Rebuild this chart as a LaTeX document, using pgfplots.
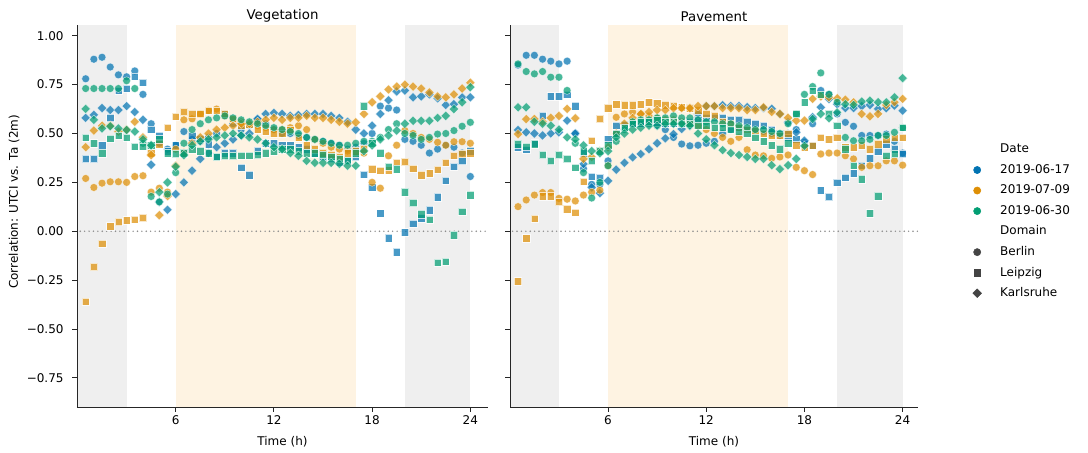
\documentclass[border=0pt]{standalone}
\usepackage{fontspec}
\setmainfont{DejaVu Sans}
\usepackage{pgfplots}
\usepackage{pgfplotstable}
\pgfplotsset{compat=1.18}

\definecolor{cb}{HTML}{0173B2}
\definecolor{co}{HTML}{DE8F05}
\definecolor{cg}{HTML}{029E73}
\definecolor{nightgray}{HTML}{EFEFEF}
\definecolor{dayorange}{HTML}{FEF3E2}
\definecolor{mkgray}{HTML}{444444}

% columns: blue = 2019-06-17, orange = 2019-07-09, green = 2019-06-30
% B = Berlin, L = Leipzig, K = Karlsruhe
\pgfplotstableread{
t bB bL bK oB oL oK gB gL gK
0.5 0.78 0.37 0.58 0.27 -0.36 0.43 0.73 0.48 0.626
1.0 0.88 0.37 0.595 0.224 -0.183 0.515 0.73 0.45 0.57
1.5 0.89 0.44 0.63 0.246 -0.062 0.54 0.73 0.40 0.526
2.0 0.84 0.58 0.62 0.253 0.025 0.54 0.73 0.475 0.537
2.5 0.80 0.72 0.62 0.253 0.048 0.51 0.73 0.49 0.526
3.0 0.79 0.73 0.64 0.25 0.056 0.52 0.77 0.48 0.518
3.5 0.82 0.79 0.61 0.28 0.06 0.56 0.73 0.434 0.51
4.0 0.70 0.76 0.57 0.284 0.068 0.48 0.45 0.434 0.47
4.5 0.55 0.52 0.34 0.20 0.40 0.39 0.178 0.44 0.44
5.0 0.45 0.49 0.15 0.22 0.446 0.082 0.15 0.47 0.20
5.5 0.42 0.41 0.11 0.20 0.53 0.18 0.19 0.40 0.25
6.0 0.44 0.44 0.19 0.42 0.586 0.335 0.30 0.395 0.33
6.5 0.51 0.40 0.25 0.57 0.61 0.40 0.45 0.40 0.39
7.0 0.47 0.49 0.31 0.575 0.60 0.45 0.52 0.42 0.44
7.5 0.46 0.475 0.37 0.60 0.60 0.48 0.55 0.41 0.46
8.0 0.48 0.446 0.40 0.617 0.617 0.50 0.57 0.40 0.47
8.5 0.50 0.38 0.43 0.625 0.617 0.52 0.58 0.38 0.48
9.0 0.60 0.40 0.45 0.59 0.60 0.53 0.59 0.385 0.49
9.5 0.55 0.40 0.47 0.57 0.575 0.54 0.58 0.385 0.50
10.0 0.52 0.326 0.49 0.56 0.54 0.55 0.57 0.386 0.49
10.5 0.54 0.287 0.50 0.55 0.545 0.55 0.56 0.386 0.48
11.0 0.57 0.41 0.575 0.54 0.52 0.56 0.55 0.39 0.47
11.5 0.55 0.45 0.60 0.53 0.51 0.57 0.54 0.40 0.45
12.0 0.52 0.45 0.605 0.52 0.50 0.58 0.53 0.41 0.43
12.5 0.50 0.44 0.60 0.52 0.50 0.57 0.52 0.42 0.42
13.0 0.50 0.44 0.59 0.53 0.52 0.58 0.51 0.42 0.40
13.5 0.49 0.43 0.595 0.54 0.48 0.58 0.50 0.41 0.386
14.0 0.48 0.42 0.60 0.52 0.44 0.59 0.48 0.40 0.36
14.5 0.47 0.40 0.60 0.47 0.42 0.58 0.47 0.40 0.35
15.0 0.46 0.38 0.60 0.45 0.40 0.58 0.46 0.39 0.35
15.5 0.45 0.37 0.59 0.43 0.39 0.57 0.45 0.38 0.35
16.0 0.44 0.35 0.58 0.42 0.38 0.56 0.44 0.37 0.345
16.5 0.42 0.36 0.56 0.41 0.40 0.55 0.44 0.36 0.335
17.0 0.43 0.38 0.52 0.40 0.41 0.557 0.45 0.40 0.335
17.5 0.45 0.29 0.50 0.40 0.42 0.60 0.46 0.64 0.41
18.0 0.50 0.225 0.54 0.25 0.318 0.66 0.46 0.45 0.44
18.5 0.64 0.092 0.60 0.22 0.31 0.69 0.48 0.40 0.47
19.0 0.63 -0.035 0.67 0.386 0.312 0.725 0.52 0.33 0.49
19.5 0.62 -0.107 0.715 0.44 0.35 0.74 0.55 0.318 0.515
20.0 0.47 -0.005 0.72 0.515 0.355 0.75 0.50 0.20 0.55
20.5 0.46 0.04 0.685 0.50 0.32 0.74 0.49 0.145 0.565
21.0 0.44 0.067 0.69 0.48 0.287 0.73 0.47 0.088 0.565
21.5 0.40 0.108 0.70 0.47 0.297 0.71 0.48 0.06 0.565
22.0 0.42 0.175 0.68 0.455 0.315 0.69 0.497 -0.16 0.58
22.5 0.44 0.26 0.646 0.44 0.352 0.685 0.50 -0.155 0.59
23.0 0.43 0.33 0.65 0.458 0.386 0.70 0.515 -0.02 0.625
23.5 0.40 0.36 0.685 0.458 0.395 0.73 0.537 0.10 0.66
24.0 0.28 0.41 0.685 0.45 0.40 0.76 0.557 0.185 0.737
}\veg

\pgfplotstableread{
t bB bL bK oB oL oK gB gL gK
0.5 0.85 0.43 0.518 0.126 -0.256 0.497 0.856 0.446 0.634
1.0 0.90 0.417 0.506 0.16 -0.036 0.574 0.817 0.434 0.634
1.5 0.90 0.45 0.50 0.185 0.065 0.574 0.805 0.446 0.56
2.0 0.88 0.59 0.49 0.198 0.18 0.56 0.817 0.39 0.55
2.5 0.87 0.69 0.50 0.198 0.18 0.58 0.788 0.36 0.54
3.0 0.856 0.69 0.506 0.168 0.15 0.59 0.788 0.39 0.52
3.5 0.87 0.70 0.566 0.164 0.113 0.626 0.72 0.37 0.48
4.0 0.50 0.64 0.50 0.155 0.096 0.578 0.45 0.326 0.47
4.5 0.32 0.40 0.344 0.185 0.253 0.37 0.30 0.41 0.44
5.0 0.24 0.28 0.224 0.20 0.463 0.38 0.17 0.36 0.41
5.5 0.24 0.275 0.195 0.21 0.574 0.41 0.25 0.41 0.40
6.0 0.36 0.47 0.258 0.335 0.63 0.43 0.335 0.44 0.41
6.5 0.50 0.54 0.315 0.583 0.65 0.50 0.46 0.50 0.48
7.0 0.53 0.545 0.35 0.60 0.645 0.55 0.52 0.53 0.50
7.5 0.55 0.55 0.378 0.61 0.645 0.58 0.56 0.55 0.52
8.0 0.55 0.55 0.395 0.60 0.65 0.60 0.57 0.56 0.53
8.5 0.55 0.56 0.42 0.59 0.66 0.61 0.57 0.56 0.54
9.0 0.54 0.555 0.45 0.58 0.655 0.62 0.58 0.57 0.54
9.5 0.52 0.55 0.475 0.57 0.645 0.62 0.58 0.56 0.55
10.0 0.48 0.55 0.497 0.57 0.64 0.63 0.59 0.56 0.55
10.5 0.446 0.56 0.523 0.56 0.634 0.63 0.58 0.55 0.55
11.0 0.437 0.56 0.54 0.55 0.63 0.63 0.58 0.55 0.54
11.5 0.44 0.57 0.60 0.54 0.62 0.64 0.57 0.54 0.50
12.0 0.45 0.58 0.64 0.52 0.60 0.64 0.56 0.54 0.47
12.5 0.46 0.58 0.64 0.50 0.59 0.64 0.56 0.53 0.44
13.0 0.50 0.58 0.645 0.48 0.56 0.63 0.55 0.53 0.415
13.5 0.52 0.57 0.64 0.46 0.55 0.63 0.55 0.52 0.40
14.0 0.53 0.57 0.64 0.48 0.53 0.63 0.54 0.51 0.39
14.5 0.53 0.56 0.635 0.417 0.52 0.62 0.53 0.50 0.38
15.0 0.52 0.55 0.63 0.39 0.515 0.62 0.52 0.48 0.37
15.5 0.51 0.54 0.63 0.386 0.50 0.634 0.52 0.46 0.37
16.0 0.50 0.52 0.626 0.373 0.49 0.61 0.51 0.44 0.338
16.5 0.49 0.50 0.60 0.38 0.49 0.60 0.50 0.42 0.318
17.0 0.50 0.48 0.557 0.39 0.50 0.58 0.55 0.45 0.338
17.5 0.52 0.47 0.506 0.327 0.44 0.566 0.60 0.60 0.37
18.0 0.455 0.446 0.463 0.31 0.43 0.566 0.70 0.66 0.437
18.5 0.55 0.44 0.583 0.29 0.437 0.677 0.74 0.72 0.574
19.0 0.72 0.21 0.634 0.395 0.48 0.69 0.81 0.70 0.60
19.5 0.70 0.176 0.677 0.40 0.47 0.685 0.70 0.60 0.578
20.0 0.60 0.25 0.65 0.40 0.48 0.68 0.66 0.54 0.608
20.5 0.557 0.275 0.63 0.386 0.43 0.673 0.48 0.42 0.65
21.0 0.537 0.297 0.63 0.37 0.43 0.66 0.463 0.335 0.646
21.5 0.49 0.335 0.64 0.327 0.44 0.60 0.463 0.267 0.663
22.0 0.49 0.373 0.646 0.335 0.42 0.588 0.47 0.092 0.668
22.5 0.49 0.41 0.626 0.335 0.446 0.60 0.49 0.18 0.66
23.0 0.497 0.446 0.63 0.36 0.47 0.646 0.49 0.386 0.66
23.5 0.46 0.42 0.643 0.36 0.48 0.66 0.506 0.395 0.685
24.0 0.40 0.395 0.617 0.338 0.48 0.677 0.53 0.53 0.783
}\pav

\pgfplotsset{
  panel/.style={
    scale only axis, height=286.5pt,
    ymin=-0.899, ymax=1.055,
    axis lines=left, axis on top,
    axis line style={-, line width=0.65pt, black!85},
    tick align=outside, major tick length=3.5pt,
    tick style={black!85, line width=0.65pt},
    xtick={6,12,18,24},
    ytick={-0.75,-0.5,-0.25,0,0.25,0.5,0.75,1},
    /pgf/number format/assume math mode=true,
    xlabel={Time (h)},
    xlabel style={at={(axis description cs:0.5,0)}, anchor=center, yshift=-26pt},
    title style={at={(axis description cs:0.5,1)}, anchor=south, yshift=-7pt,
      font=\fontsize{10}{12}\selectfont},
  },
  pts/.style={only marks, forget plot},
  sB/.style={pts, mark=*, mark size=2.95pt,
    mark options={draw=white, line width=0.3pt, fill opacity=0.72, draw opacity=0.72}},
  sL/.style={pts, mark=square*, mark size=2.75pt,
    mark options={draw=white, line width=0.3pt, fill opacity=0.72, draw opacity=0.72}},
  sK/.style={pts, mark=square*, mark size=2.5pt,
    mark options={draw=white, line width=0.3pt, fill opacity=0.72, draw opacity=0.72, rotate=45}},
}

\newcommand{\bands}{%
  \addplot[fill=nightgray, draw=none, forget plot] coordinates {(0,-0.899) (3,-0.899) (3,1.055) (0,1.055)} -- cycle;
  \addplot[fill=dayorange, draw=none, forget plot] coordinates {(6,-0.899) (17,-0.899) (17,1.055) (6,1.055)} -- cycle;
  \addplot[fill=nightgray, draw=none, forget plot] coordinates {(20,-0.899) (24,-0.899) (24,1.055) (20,1.055)} -- cycle;
  \addplot[black!45, line width=1.2pt, line cap=round, dash pattern=on 0pt off 3.3pt, forget plot] coordinates {(-0.1,0) (25.2,0)};
}
\newcommand{\points}[1]{%
  \addplot[sB, cb] table[x=t, y=bB] {#1};
  \addplot[sL, cb] table[x=t, y=bL] {#1};
  \addplot[sK, cb] table[x=t, y=bK] {#1};
  \addplot[sB, co] table[x=t, y=oB] {#1};
  \addplot[sL, co] table[x=t, y=oL] {#1};
  \addplot[sK, co] table[x=t, y=oK] {#1};
  \addplot[sB, cg] table[x=t, y=gB] {#1};
  \addplot[sL, cg] table[x=t, y=gL] {#1};
  \addplot[sK, cg] table[x=t, y=gK] {#1};
}

\begin{document}
\fontsize{9}{11}\selectfont
\begin{tikzpicture}
\path[use as bounding box] (-57.75pt,-34.5pt) rectangle (758.25pt,305.25pt);

\begin{axis}[panel, at={(0pt,0pt)}, anchor=south west,
  width=308.25pt, xmin=-0.03, xmax=25.08,
  title={Vegetation},
  yticklabels={−0.75,−0.50,−0.25,0.00,0.25,0.50,0.75,1.00},
  yticklabel style={xshift=-3.4pt},
  ylabel={Correlation: UTCI vs. Ta (2m)},
  ylabel style={at={(axis description cs:-0.153,0.537)}, anchor=center},
]
\bands
\points{\veg}
\end{axis}

\begin{axis}[panel, at={(324.75pt,0pt)}, anchor=south west,
  width=306pt, xmin=0.01, xmax=24.94,
  title={Pavement},
  yticklabels={},
  legend cell align=left,
  legend style={draw=none, fill=none, at={(1.11,0.486)}, anchor=west, xshift=2pt,
    row sep=6.4pt, inner sep=0pt,
    nodes={inner sep=0pt, text height=7pt, text depth=2pt},
    /tikz/every odd column/.append style={column sep=14pt}},
]
\bands
\points{\pav}
\addlegendimage{empty legend}\addlegendentry{Date}
\addlegendimage{only marks, mark=*, mark size=2.7pt, cb}\addlegendentry{2019-06-17}
\addlegendimage{only marks, mark=*, mark size=2.7pt, co}\addlegendentry{2019-07-09}
\addlegendimage{only marks, mark=*, mark size=2.7pt, cg}\addlegendentry{2019-06-30}
\addlegendimage{empty legend}\addlegendentry{Domain}
\addlegendimage{only marks, mark=*, mark size=2.7pt, mkgray}\addlegendentry{Berlin}
\addlegendimage{only marks, mark=square*, mark size=2.5pt, mkgray}\addlegendentry{Leipzig}
\addlegendimage{only marks, mark=square*, mark size=2.3pt, mkgray, mark options={rotate=45}}\addlegendentry{Karlsruhe}
\end{axis}
\end{tikzpicture}
\end{document}
